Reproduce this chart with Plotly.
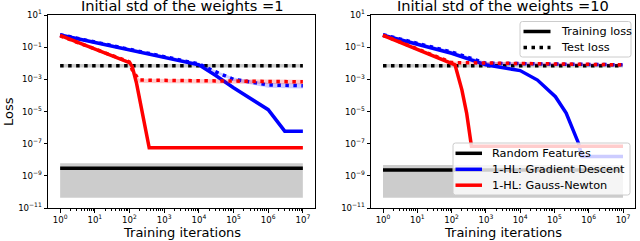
import plotly.graph_objects as go

# ---------------- data ----------------
titles = ["Initial std of the weights =1", "Initial std of the weights =10"]

# Panel 1: std = 1
rf1_x = [1, 1e7]
rf1_train = [3e-9, 3e-9]
rf1_train_lo = [4.4e-11, 4.4e-11]
rf1_train_hi = [6e-9, 6e-9]
rf1_test = [7e-3, 7e-3]
rf1_test_lo = [5.5e-3, 5.5e-3]
rf1_test_hi = [9e-3, 9e-3]

gd1_train_x = [1, 1e4, 3e4, 1e5, 1e6, 3e6, 1e7]
gd1_train = [0.57, 8e-3, 1.8e-3, 3e-4, 1.3e-5, 6e-7, 6e-7]
gd1_train_lo = [0.5, 7e-3, 1.6e-3, 2.6e-4, 1.1e-5, 5.2e-7, 5.2e-7]
gd1_train_hi = [0.65, 9e-3, 2e-3, 3.4e-4, 1.5e-5, 6.8e-7, 6.8e-7]

gd1_test_x = [1, 1e2, 1e4, 3e4, 1e5, 1e6, 1e7]
gd1_test = [0.6, 0.075, 9e-3, 3e-3, 1e-3, 4.5e-4, 4e-4]
gd1_test_lo = [0.5, 0.065, 8e-3, 2.5e-3, 8e-4, 3e-4, 2.7e-4]
gd1_test_hi = [0.7, 0.09, 1.1e-2, 3.6e-3, 1.3e-3, 6e-4, 5.5e-4]

gn1_train_x = [1, 100, 120, 160, 370, 1e7]
gn1_train = [0.55, 1.1e-2, 6.3e-3, 5.6e-4, 5.5e-8, 5.5e-8]
gn1_train_lo = [0.45, 1.0e-2, 5.6e-3, 5e-4, 5e-8, 5e-8]
gn1_train_hi = [0.62, 1.2e-2, 7e-3, 6.2e-4, 6e-8, 6e-8]

gn1_test_x = [1, 100, 120, 190, 1e7]
gn1_test = [0.5, 1.2e-2, 3.8e-3, 9e-4, 7e-4]
gn1_test_lo = [0.4, 1.0e-2, 3e-3, 6e-4, 5e-4]
gn1_test_hi = [0.6, 1.4e-2, 4.5e-3, 1.1e-3, 9.5e-4]

# Panel 2: std = 10
rf10_x = [1, 1e7]
rf10_train = [2.3e-9, 2.3e-9]
rf10_train_lo = [4.4e-11, 4.4e-11]
rf10_train_hi = [4.7e-9, 4.7e-9]
rf10_test = [7e-3, 7e-3]
rf10_test_lo = [5.5e-3, 5.5e-3]
rf10_test_hi = [9e-3, 9e-3]

gd10_train_x = [1, 100, 1000, 1e4, 3.2e4, 1.07e5, 2.2e5, 3.6e5, 5.1e5, 6.3e5, 1e7]
gd10_train = [0.55, 0.042, 8e-3, 3.5e-3, 9e-4, 8.3e-5, 8e-6, 7e-7, 1e-7, 1.6e-8, 1.6e-8]
gd10_train_lo = [0.47, 0.036, 7e-3, 3e-3, 7.8e-4, 7e-5, 6.8e-6, 6e-7, 8.5e-8, 1.3e-8, 1.3e-8]
gd10_train_hi = [0.65, 0.05, 9.2e-3, 4e-3, 1.05e-3, 9.6e-5, 9.4e-6, 8.2e-7, 1.2e-7, 1.9e-8, 1.9e-8]

gd10_test_x = [1, 100, 1000, 1e7]
gd10_test = [0.6, 0.05, 1e-2, 8e-3]
gd10_test_lo = [0.5, 0.042, 8.5e-3, 7e-3]
gd10_test_hi = [0.72, 0.06, 1.2e-2, 9e-3]

gn10_train_x = [1, 100, 126, 200, 275, 380, 1e7]
gn10_train = [0.55, 1.1e-2, 8e-3, 2.2e-4, 8e-6, 7e-8, 7e-8]
gn10_train_lo = [0.45, 1.0e-2, 7.2e-3, 2e-4, 7e-6, 6.2e-8, 6.2e-8]
gn10_train_hi = [0.62, 1.2e-2, 8.8e-3, 2.4e-4, 9e-6, 7.8e-8, 7.8e-8]

gn10_test_x = [1, 100, 1e7]
gn10_test = [0.55, 1.1e-2, 8e-3]
gn10_test_lo = [0.45, 9.5e-3, 7e-3]
gn10_test_hi = [0.65, 1.3e-2, 9e-3]

x_tick_vals = [1, 10, 100, 1e3, 1e4, 1e5, 1e6, 1e7]
x_tick_text = ["10<sup>0</sup>", "10<sup>1</sup>", "10<sup>2</sup>", "10<sup>3</sup>",
               "10<sup>4</sup>", "10<sup>5</sup>", "10<sup>6</sup>", "10<sup>7</sup>"]
y_tick_vals = [1e1, 1e-1, 1e-3, 1e-5, 1e-7, 1e-9, 1e-11]
y_tick_text = ["10<sup>1</sup>", "10<sup>−1</sup>", "10<sup>−3</sup>", "10<sup>−5</sup>",
               "10<sup>−7</sup>", "10<sup>−9</sup>", "10<sup>−11</sup>"]

legend1_names = ["Training loss", "Test loss"]
legend2_names = ["Random Features", "1-HL: Gradient Descent", "1-HL: Gauss-Newton"]

# ---------------- styling ----------------
FONT = "DejaVu Sans"
BLACK, BLUE, RED = "#000000", "#0000ff", "#ff0000"
BAND = {BLACK: "rgba(0,0,0,0.2)", BLUE: "rgba(0,0,255,0.2)", RED: "rgba(255,0,0,0.2)"}
LW = 3.5
DOT = "3.5px,4.5px"
W, H = 640, 241


def X(px):
    return px / W


def Y(py):
    return 1 - py / H


fig = go.Figure()


def add_series(x, y, lo, hi, color, dotted, xa, ya):
    fig.add_trace(go.Scatter(x=x, y=lo, mode="lines", line=dict(width=0, color=BAND[color]),
                             showlegend=False, hoverinfo="skip", xaxis=xa, yaxis=ya))
    fig.add_trace(go.Scatter(x=x, y=hi, mode="lines", line=dict(width=0, color=BAND[color]),
                             fill="tonexty", fillcolor=BAND[color],
                             showlegend=False, hoverinfo="skip", xaxis=xa, yaxis=ya))
    fig.add_trace(go.Scatter(x=x, y=y, mode="lines",
                             line=dict(width=LW, color=color, dash=DOT if dotted else "solid"),
                             showlegend=False, xaxis=xa, yaxis=ya))


panels = [
    ("x", "y", [
        (rf1_x, rf1_train, rf1_train_lo, rf1_train_hi, BLACK, False),
        (rf1_x, rf1_test, rf1_test_lo, rf1_test_hi, BLACK, True),
        (gd1_train_x, gd1_train, gd1_train_lo, gd1_train_hi, BLUE, False),
        (gd1_test_x, gd1_test, gd1_test_lo, gd1_test_hi, BLUE, True),
        (gn1_train_x, gn1_train, gn1_train_lo, gn1_train_hi, RED, False),
        (gn1_test_x, gn1_test, gn1_test_lo, gn1_test_hi, RED, True),
    ]),
    ("x2", "y2", [
        (rf10_x, rf10_train, rf10_train_lo, rf10_train_hi, BLACK, False),
        (rf10_x, rf10_test, rf10_test_lo, rf10_test_hi, BLACK, True),
        (gd10_train_x, gd10_train, gd10_train_lo, gd10_train_hi, BLUE, False),
        (gd10_test_x, gd10_test, gd10_test_lo, gd10_test_hi, BLUE, True),
        (gn10_train_x, gn10_train, gn10_train_lo, gn10_train_hi, RED, False),
        (gn10_test_x, gn10_test, gn10_test_lo, gn10_test_hi, RED, True),
    ]),
]
for xa, ya, series in panels:
    for s in series:
        add_series(*s, xa, ya)

minor_x = [m * 10 ** k for k in range(0, 7) for m in range(2, 10)]
TICKFONT = dict(family=FONT, size=8.6, color="black")


def xaxis(domain, anchor):
    return dict(domain=domain, anchor=anchor, type="log", range=[-0.35, 7.35], showgrid=False,
                zeroline=False, automargin=False,
                showline=True, mirror=True, linecolor="black", linewidth=1,
                ticks="outside", ticklen=3.5, tickwidth=1, tickcolor="black",
                tickvals=x_tick_vals, ticktext=x_tick_text, tickfont=TICKFONT,
                minor=dict(tickvals=minor_x, ticks="outside", ticklen=2, tickwidth=0.8,
                           tickcolor="black", showgrid=False))


def yaxis(domain, anchor):
    return dict(domain=domain, anchor=anchor, type="log", range=[-11, 1], showgrid=False,
                zeroline=False, automargin=False, showline=True, mirror=True,
                linecolor="black", linewidth=1,
                ticks="outside", ticklen=3.5, tickwidth=1, tickcolor="black",
                tickvals=y_tick_vals, ticktext=y_tick_text, tickfont=TICKFONT)


ydom = [Y(208), Y(15)]
fig.update_layout(
    width=W, height=H, margin=dict(l=0, r=0, t=0, b=0, autoexpand=False),
    paper_bgcolor="white", plot_bgcolor="white",
    font=dict(family=FONT, color="black"),
    xaxis=xaxis([X(48), X(315)], "y"),
    yaxis=yaxis(ydom, "x"),
    xaxis2=xaxis([X(371), X(635)], "y2"),
    yaxis2=yaxis(ydom, "x2"),
    showlegend=False,
)

# ---------------- legends (drawn as boxes, sample lines and text) ----------------
shapes = []
annotations = []


def rrect(x0, y0, x1, y1, r=2.5):
    return (f"M {X(x0 + r)},{Y(y0)} L {X(x1 - r)},{Y(y0)} Q {X(x1)},{Y(y0)} {X(x1)},{Y(y0 + r)} "
            f"L {X(x1)},{Y(y1 - r)} Q {X(x1)},{Y(y1)} {X(x1 - r)},{Y(y1)} "
            f"L {X(x0 + r)},{Y(y1)} Q {X(x0)},{Y(y1)} {X(x0)},{Y(y1 - r)} "
            f"L {X(x0)},{Y(y0 + r)} Q {X(x0)},{Y(y0)} {X(x0 + r)},{Y(y0)} Z")


LEGFONT = dict(family=FONT, size=11.3, color="black")


def legend(box, line_x, text_x, rows, names, colors, dashes):
    shapes.append(dict(type="path", xref="paper", yref="paper", path=rrect(*box),
                       fillcolor="rgba(255,255,255,0.8)", line=dict(color="#cccccc", width=1),
                       layer="above"))
    for ry, name, c, d in zip(rows, names, colors, dashes):
        shapes.append(dict(type="line", xref="paper", yref="paper",
                           x0=X(line_x[0]), x1=X(line_x[1]), y0=Y(ry), y1=Y(ry),
                           line=dict(color=c, width=LW, dash=d), layer="above"))
        annotations.append(dict(text=name, x=X(text_x), y=Y(ry), xref="paper", yref="paper",
                                xanchor="left", yanchor="middle", showarrow=False,
                                font=LEGFONT))


legend((520, 21.5, 631, 57), (523.5, 550.5), 558.5, [31.5, 47.5], legend1_names,
       [BLACK, BLACK], ["solid", DOT])
legend((453, 143, 630, 195), (455.5, 482), 489.5, [153.3, 169.3, 185.2], legend2_names,
       [BLACK, BLUE, RED], ["solid", "solid", "solid"])

for title, cx in zip(titles, [182, 503]):
    annotations.append(dict(text=title, x=X(cx), y=Y(5), xref="paper", yref="paper",
                            xanchor="center", yanchor="middle", showarrow=False,
                            font=dict(family=FONT, size=14.6, color="black")))
for cx in [181.5, 503]:
    annotations.append(dict(text="Training iterations", x=X(cx), y=Y(232.5), xref="paper",
                            yref="paper", xanchor="center", yanchor="middle", showarrow=False,
                            font=dict(family=FONT, size=13, color="black")))
annotations.append(dict(text="Loss", x=X(8.5), y=Y(111.5), xref="paper", yref="paper",
                        xanchor="center", yanchor="middle", textangle=-90, showarrow=False,
                        font=dict(family=FONT, size=13, color="black")))
fig.update_layout(annotations=annotations, shapes=shapes)

fig.write_html("out.html", config={"displayModeBar": False},
               post_script="document.body.style.margin='0';"
               "document.documentElement.style.overflow='hidden';")
